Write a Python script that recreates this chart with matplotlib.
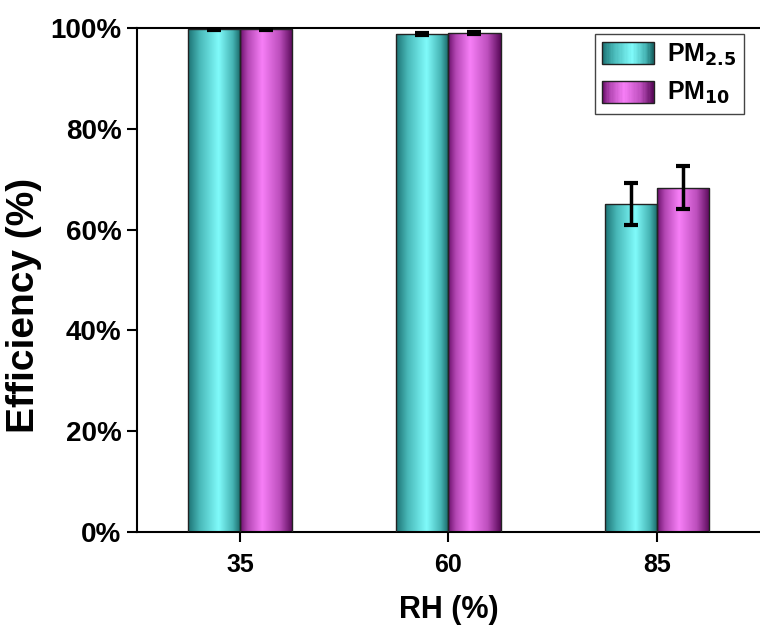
import numpy as np
import matplotlib.pyplot as plt
from matplotlib.colors import LinearSegmentedColormap
from matplotlib.patches import Rectangle
from matplotlib.legend_handler import HandlerBase

plt.rcParams['font.family'] = ['Liberation Sans', 'DejaVu Sans']
plt.rcParams['font.weight'] = 'bold'
plt.rcParams['mathtext.default'] = 'bf'

# data
rh = [35, 60, 85]
pm25 = [99.8, 98.8, 65.1]
pm25_err = [0.2, 0.2, 4.2]
pm10 = [99.9, 99.1, 68.3]
pm10_err = [0.2, 0.2, 4.25]

# gradient colormaps (dark edge -> bright -> dark edge)
cyan_cm = LinearSegmentedColormap.from_list(
    'cy', [(0.0, '#1c7273'), (0.22, '#48b8b8'), (0.58, '#80fbfb'), (0.85, '#45b3b3'), (1.0, '#166363')])
mag_cm = LinearSegmentedColormap.from_list(
    'mg', [(0.0, '#6a0f6a'), (0.15, '#b447b4'), (0.42, '#f77ff7'), (0.75, '#bd4fbd'), (1.0, '#580858')])

grad = np.linspace(0, 1, 256).reshape(1, -1)

fig = plt.figure(figsize=(7.6, 6.28), dpi=100)
ax = fig.add_axes([0.180, 0.1529, 0.820, 0.8025])

w = 6.25
x = np.array(rh, dtype=float)


def gradient_bars(xs, heights, cmap):
    bars = ax.bar(xs, heights, width=w, color='none', edgecolor='#222222', linewidth=1.0, zorder=3)
    for b in bars:
        x0, y0 = b.get_x(), b.get_y()
        im = ax.imshow(grad, cmap=cmap, aspect='auto', extent=(x0, x0 + b.get_width(), y0, y0 + b.get_height()),
                       zorder=2, interpolation='bicubic')
        im.set_clip_path(b)
    return bars


gradient_bars(x - w / 2, pm25, cyan_cm)
gradient_bars(x + w / 2, pm10, mag_cm)

ax.errorbar(x - w / 2, pm25, yerr=pm25_err, fmt='none', ecolor='black', elinewidth=2.5,
            capsize=5, capthick=3, zorder=4)
ax.errorbar(x + w / 2, pm10, yerr=pm10_err, fmt='none', ecolor='black', elinewidth=2.5,
            capsize=5, capthick=3, zorder=4)

ax.set_xlim(22.62, 97.38)
ax.set_ylim(0, 100)
ax.set_xticks(rh)
ax.set_yticks(np.arange(0, 101, 20))
ax.set_yticklabels([f'{v}%' for v in range(0, 101, 20)])

for s in ['left', 'bottom', 'top']:
    ax.spines[s].set_linewidth(1.5)
ax.spines['right'].set_visible(False)
ax.tick_params(axis='both', direction='out', length=7, width=1.5, pad=4, top=False, right=False)
ax.tick_params(axis='y', labelsize=20)
ax.tick_params(axis='x', labelsize=18, pad=8)

ax.set_xlabel('RH (%)', fontsize=22, fontweight='bold', labelpad=13)
ax.set_ylabel('Efficiency (%)', fontsize=28, fontweight='bold')
ax.yaxis.set_label_coords(-0.152, 0.45)


class GradHandler(HandlerBase):
    def __init__(self, cmap):
        super().__init__()
        self.cmap = cmap

    def create_artists(self, legend, orig_handle, xdescent, ydescent, width, height, fontsize, trans):
        n = 40
        arts = []
        for i in range(n):
            r = Rectangle((-xdescent + width * i / n, -ydescent), width / n + 0.3, height,
                          facecolor=self.cmap((i + 0.5) / n), edgecolor='none', transform=trans)
            arts.append(r)
        arts.append(Rectangle((-xdescent, -ydescent), width, height, facecolor='none',
                              edgecolor='#222222', linewidth=1.0, transform=trans))
        return arts


h1 = Rectangle((0, 0), 1, 1)
h2 = Rectangle((0, 0), 1, 1)
leg = ax.legend([h1, h2], [r'PM$_{\mathbf{2.5}}$', r'PM$_{\mathbf{10}}$'],
                handler_map={h1: GradHandler(cyan_cm), h2: GradHandler(mag_cm)},
                loc='upper right', bbox_to_anchor=(0.975, 0.988), fancybox=False, edgecolor='#444444',
                framealpha=1, prop={'size': 18, 'weight': 'bold'}, handlelength=2.05, handleheight=1.0,
                handletextpad=0.55, borderpad=0.3, labelspacing=0.5, borderaxespad=0)
leg.get_frame().set_linewidth(1.0)

fig.savefig('out.png', dpi=100)
